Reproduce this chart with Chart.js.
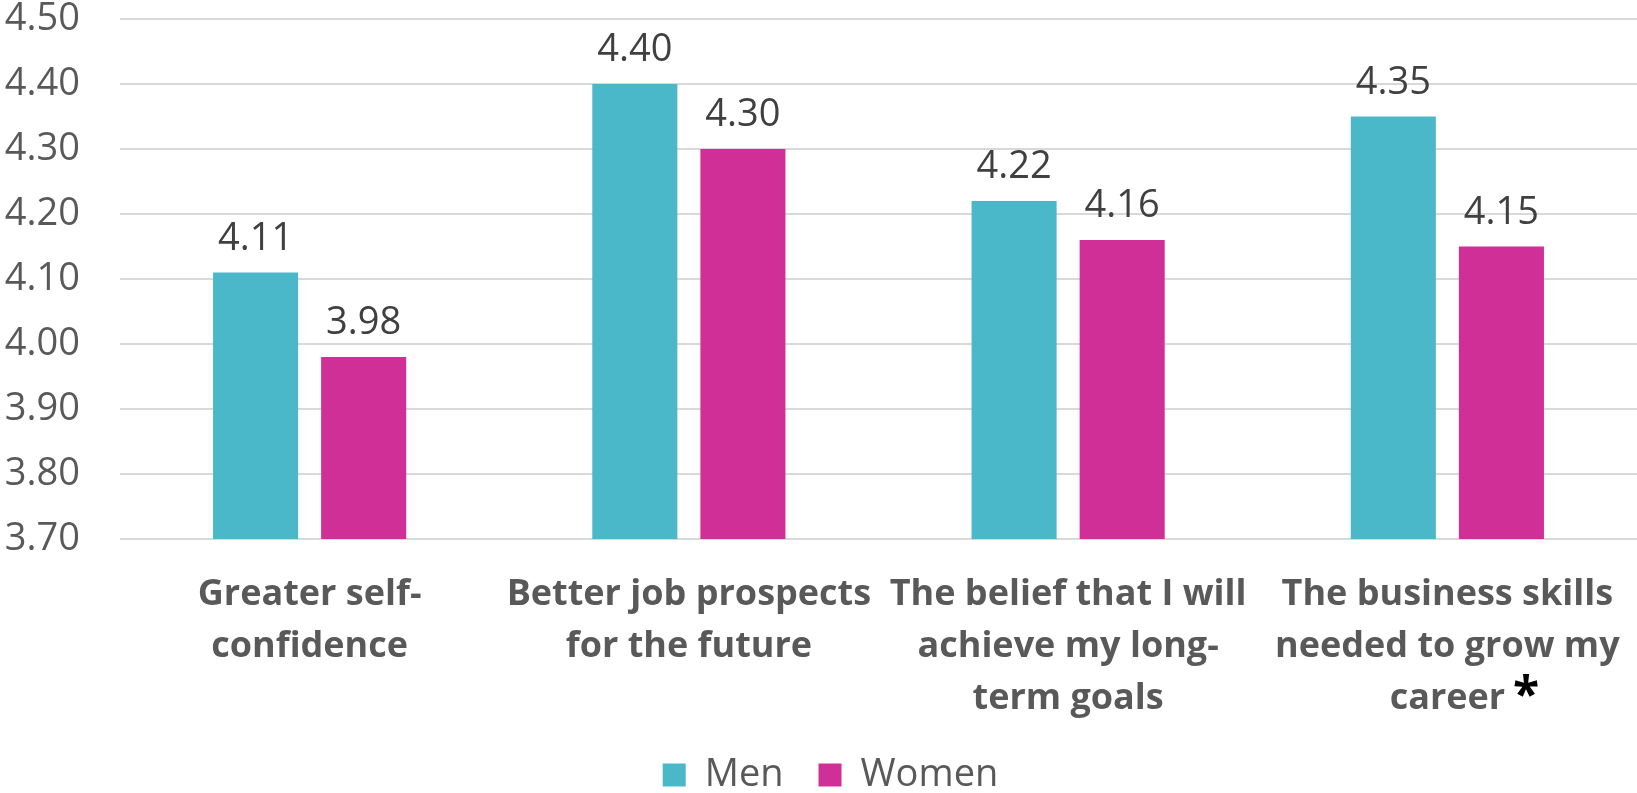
<!DOCTYPE html>
<html>
<head>
<meta charset="utf-8">
<script src="https://cdn.jsdelivr.net/npm/chart.js@4.4.1/dist/chart.umd.min.js"></script>
<style>
	html, body { margin: 0; padding: 0; background: #fff; }
	#wrap { width: 1637px; height: 793px; }
</style>
</head>
<body>
<div id="wrap"><canvas id="chartBenefits" width="1637" height="793"></canvas></div>
<script>
'use strict'

const categories = [
	['Greater self-', 'confidence'],
	['Better job prospects', 'for the future'],
	['The belief that I will', 'achieve my long-', 'term goals'],
	['The business skills', 'needed to grow my', 'career'],
];
const men = [4.11, 4.40, 4.22, 4.35];
const women = [3.98, 4.30, 4.16, 4.15];
const seriesNames = ['Men', 'Women'];
const yTicks = [3.70, 3.80, 3.90, 4.00, 4.10, 4.20, 4.30, 4.40, 4.50];

const colors = {
	men: '#4BB8C9',
	women: '#D02F97',
	tick: '#595959',
	value: '#404040',
	grid: '#D9D9D9',
};

const labelSize = 36;
const labelLine = 52;
const labelPad = 30;

// value labels above each bar
const valueLabels = {
	id: 'valueLabels',
	afterDatasetsDraw(chart) {
		const { ctx } = chart;
		ctx.save();
		ctx.font = '38px "Open Sans"';
		ctx.fillStyle = colors.value;
		ctx.textAlign = 'center';
		ctx.textBaseline = 'alphabetic';
		chart.data.datasets.forEach((ds, i) => {
			chart.getDatasetMeta(i).data.forEach((bar, j) => {
				ctx.fillText(ds.data[j].toFixed(2), bar.x, bar.y - 23);
			});
		});
		ctx.restore();
	},
};

// asterisk after the last category label
const asterisk = {
	id: 'asterisk',
	afterDraw(chart) {
		const { ctx } = chart;
		const x = chart.scales.x;
		const last = categories.length - 1;
		const lines = categories[last];
		ctx.save();
		ctx.font = 'bold ' + labelSize + 'px "Open Sans"';
		const w = ctx.measureText(lines[lines.length - 1]).width;
		const cx = x.getPixelForTick(last);
		const lineY = x.top + labelPad + labelLine / 2 + labelLine * (lines.length - 1);
		ctx.font = 'bold 48px "Open Sans"';
		ctx.fillStyle = '#000';
		ctx.textAlign = 'left';
		ctx.textBaseline = 'middle';
		ctx.fillText('*', cx + w / 2 + 8, lineY - 2);
		ctx.restore();
	},
};

// nudge the legend a little right, as in the original
const legendShift = {
	id: 'legendShift',
	afterLayout(chart) {
		chart.legend.left += 12;
		chart.legend.right += 12;
	},
};

new Chart(document.getElementById('chartBenefits'), {
	type: 'bar',
	data: {
		labels: categories,
		datasets: [
			{ label: seriesNames[0], data: men, backgroundColor: colors.men },
			{ label: seriesNames[1], data: women, backgroundColor: colors.women },
		],
	},
	options: {
		responsive: false,
		animation: false,
		layout: { padding: { top: 0, right: 0, left: 0, bottom: -11 } },
		categoryPercentage: 0.57,
		barPercentage: 0.787,
		plugins: {
			tooltip: { enabled: false },
			legend: {
				position: 'bottom',
				labels: {
					boxWidth: 23,
					boxHeight: 23,
					padding: 35,
					color: colors.tick,
					font: { family: 'Open Sans', size: 38 },
				},
			},
		},
		scales: {
			y: {
				min: 3.7,
				max: 4.5,
				afterFit(scale) {
					scale.width = 120;
					scale.paddingTop = 19;
					scale.paddingBottom = 0;
				},
				afterBuildTicks(scale) { scale.ticks = yTicks.map(v => ({ value: v })); },
				border: { display: false },
				grid: { color: colors.grid, lineWidth: 2, drawTicks: false },
				ticks: {
					padding: 40,
					color: colors.tick,
					font: { family: 'Open Sans', size: 38 },
					callback: v => v.toFixed(2),
				},
			},
			x: {
				afterFit(scale) {
					scale.height = 182;
					scale.paddingLeft = 0;
					scale.paddingRight = 0;
				},
				border: { display: false },
				grid: { display: false, drawTicks: false },
				ticks: {
					padding: labelPad,
					maxRotation: 0,
					autoSkip: false,
					color: colors.tick,
					font: { family: 'Open Sans', size: labelSize, weight: 'bold', lineHeight: labelLine / labelSize },
				},
			},
		},
	},
	plugins: [valueLabels, asterisk, legendShift],
});
</script>
</body>
</html>
